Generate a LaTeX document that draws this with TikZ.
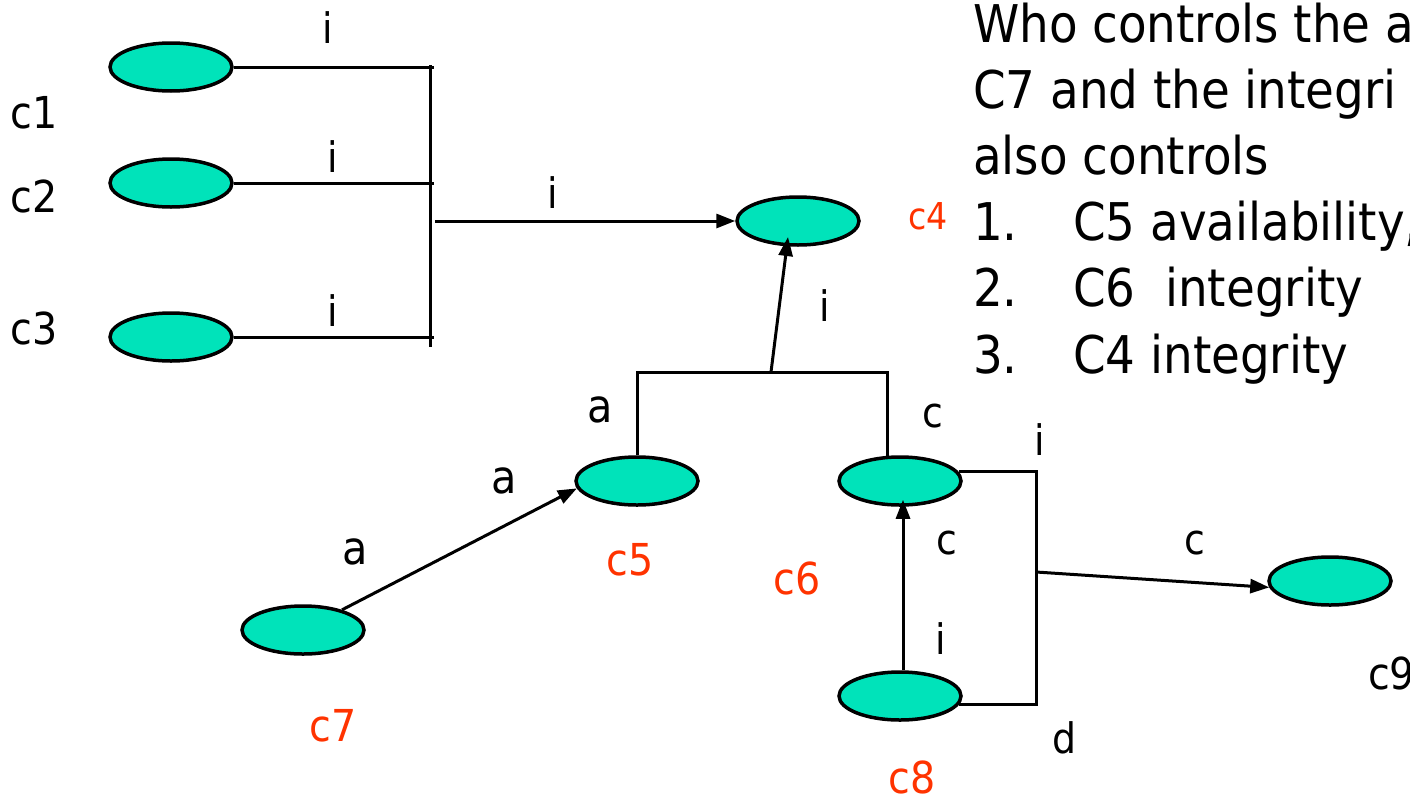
\documentclass[tikz,border=0pt]{standalone}
\usepackage{fontspec}
\setmainfont{DejaVu Sans Condensed}
\usetikzlibrary{shapes.geometric,arrows.meta,calc}
\definecolor{blobfill}{HTML}{00E3BA}
\definecolor{lblred}{HTML}{FF3300}
\tikzset{
  blob/.style={ellipse,draw=black,line width=3.5pt,fill=blobfill,minimum width=122pt,minimum height=48pt,inner sep=0pt},
  wire/.style={line width=3pt},
  arr/.style={line width=3pt,-{Triangle[length=19pt,width=14pt]}},
  lbl/.style={inner sep=0pt,font=\fontsize{42}{42}\selectfont},
  cname/.style={inner sep=0pt,font=\fontsize{44}{44}\selectfont},
  rname/.style={cname,text=lblred},
  bigtxt/.style={inner sep=0pt,anchor=base west,font=\fontsize{52}{52}\selectfont}
}
\begin{document}
\begin{tikzpicture}[x=1pt,y=-1pt]
\useasboundingbox (0,0) rectangle (1410,798);
\clip (0,0) rectangle (1410,798);
\fill[white] (0,0) rectangle (1410,798);
% ellipses
\node[blob] (e1) at (171,67) {};
\node[blob] (e2) at (171,183) {};
\node[blob] (e3) at (171,337) {};
\node[blob] (e4) at (798,221) {};
\node[blob] (e5) at (637,481) {};
\node[blob] (e6) at (900,481) {};
\node[blob] (e7) at (303,630) {};
\node[blob] (e8) at (900,696) {};
\node[blob] (e9) at (1330,581) {};
% junction coordinates
\coordinate (t1) at (434,67);
\coordinate (t2) at (434,183);
\coordinate (t3) at (434,337);
\coordinate (bt) at (430,65);
\coordinate (bb) at (430,347);
\coordinate (jl) at (435,221);
\coordinate (jm) at (771,372);
\coordinate (jr) at (1036,704);
\coordinate (jb) at (1036,572);
% connectors
\draw[wire] (e1.east) -- (t1);
\draw[wire] (e2.east) -- (t2);
\draw[wire] (e3.east) -- (t3);
\draw[wire] (bt) -- (bb);
\draw[arr] (jl) -- (e4.west);
\draw[wire] (e5.north) |- (jm) -| (e6.117);
\draw[arr] (jm) -- ($(e4)+(-10,16)$);
\draw[arr] (e7) -- (e5.187);
\draw[arr] ($(e8.north)+(3,0)$) -- ($(e6.south)+(3,-7)$);
\draw[wire] (e6.9) -| (jr) |- (e8.-8);
\draw[arr] (jb) -- (e9.186);
% labels
\node[cname] (lc1) at (34,113) {c1};
\node[cname] (lc2) at (34,196) {c2};
\node[cname] (lc3) at (34,328) {c3};
\node[lbl] (li1) at (328,28) {i};
\node[lbl] (li2) at (333,157) {i};
\node[lbl] (li3) at (333,311) {i};
\node[lbl] (li4) at (553,193) {i};
\node[inner sep=0pt,text=lblred,font=\fontsize{37}{37}\selectfont] (lc4) at (928,216) {c4};
\node[lbl] (li5) at (825,306) {i};
\node[lbl,font=\fontsize{46}{46}\selectfont] (la1) at (600,410) {a};
\node[lbl] (lcc1) at (933,416) {c};
\node[lbl,font=\fontsize{46}{46}\selectfont] (la2) at (504,481) {a};
\node[lbl,font=\fontsize{46}{46}\selectfont] (la3) at (355,552) {a};
\node[rname] (lc5) at (630,560) {c5};
\node[rname] (lc7) at (333,726) {c7};
\node[rname] (lc6) at (797,578) {c6};
\node[lbl] (li6) at (1040,440) {i};
\node[lbl] (lcc2) at (947,543) {c};
\node[lbl] (lcc3) at (1195,543) {c};
\node[lbl] (li7) at (941,639) {i};
\node[lbl] (ld) at (1064,738) {d};
\node[rname] (lc8) at (912,777) {c8};
\node[cname,anchor=west] (lc9) at (1368,673) {c9};
% text block
\node[bigtxt] (q1) at (973,42) {Who controls the a};
\node[bigtxt] (q2) at (973,108) {C7 and the integri};
\node[bigtxt] (q3) at (973,174) {also controls};
\node[bigtxt] (n1) at (973,240) {1.};
\node[bigtxt] (n2) at (973,306) {2.};
\node[bigtxt] (n3) at (973,373) {3.};
\node[bigtxt] (m1) at (1073,240) {C5 availability,};
\node[bigtxt] (m2) at (1073,306) {C6\ \ integrity};
\node[bigtxt] (m3) at (1073,373) {C4 integrity};
\end{tikzpicture}
\end{document}
